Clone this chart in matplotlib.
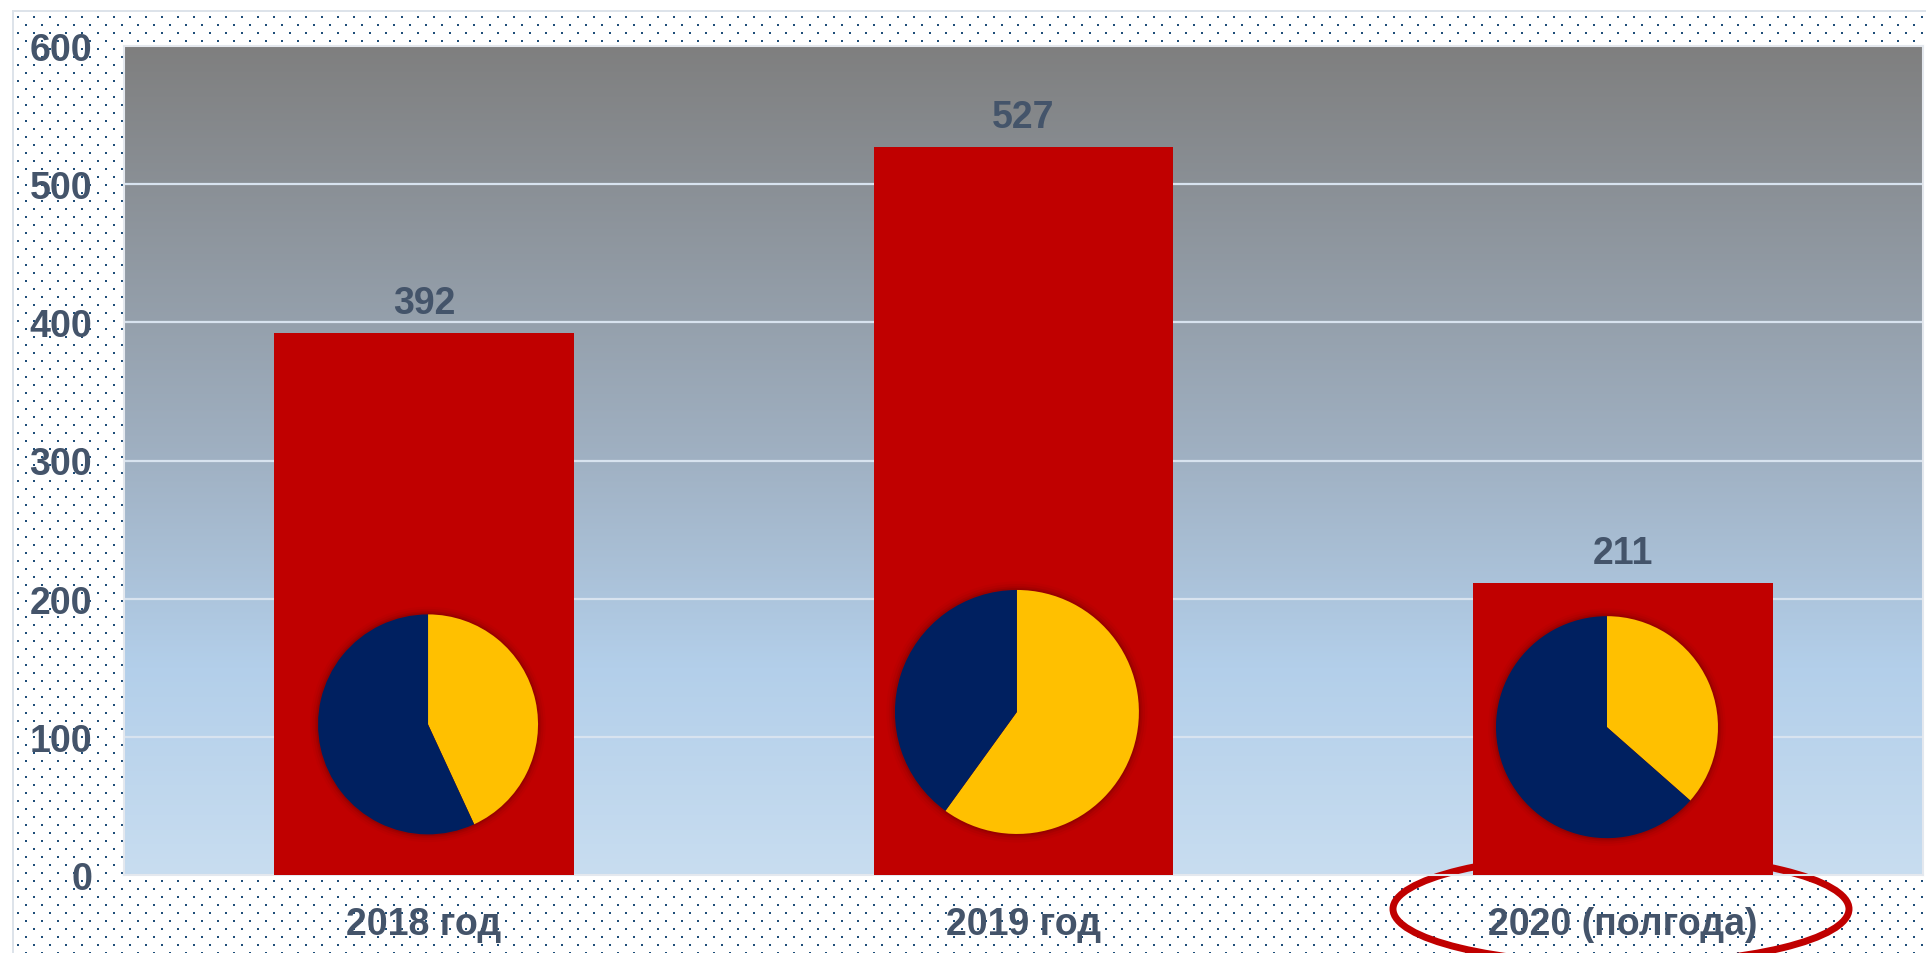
import numpy as np
import matplotlib
matplotlib.use('Agg')
import matplotlib.pyplot as plt
from matplotlib.patches import Ellipse, Circle
from matplotlib.transforms import blended_transform_factory

plt.rcParams['font.family'] = ['Liberation Sans', 'DejaVu Sans']
plt.rcParams['font.weight'] = 'bold'

# ---- data ----
categories = ['2018 год', '2019 год', '2020 (полгода)']
totals = [392, 527, 211]
yellow_part = [169, 316, 77]
navy_part = [223, 211, 134]
yticks = [0, 100, 200, 300, 400, 500, 600]

# ---- layout / style ----
W, H, DPI = 1926, 954, 100
TXT = '#44546A'
RED = '#C00000'
pie_centers = [(0.007, 109), (0.989, 118), (1.973, 107)]   # data coords
pie_radii_px = [110, 122, 111]

fig = plt.figure(figsize=(W / DPI, H / DPI), dpi=DPI)

# dotted background with light border
bg = np.ones((H, W, 3))
border = np.array([221, 227, 234]) / 255
bg[11:13, 12:, :] = border
bg[11:, 12:14, :] = border
dot = np.array([31, 78, 121]) / 255
for oy, ox in [(17, 17), (25, 25)]:
    rows = np.concatenate([np.arange(oy, H, 16), np.arange(oy + 1, H, 16)])
    cols = np.concatenate([np.arange(ox, W, 16), np.arange(ox + 1, W, 16)])
    rows = rows[rows < H]
    cols = cols[cols < W]
    bg[np.ix_(rows, cols)] = dot
fig.figimage(bg, 0, 0, zorder=-10)

ax = fig.add_axes([124 / W, 1 - 876 / H, (1923 - 124) / W, (876 - 47) / H])
ax.set_zorder(1)
ax.set_facecolor('none')

# gradient plot area
stops_t = [0.0, 0.5, 0.75, 1.0]
stops_c = np.array([[127, 127, 127], [160, 177, 195], [179, 207, 234], [200, 221, 240]]) / 255
t = np.linspace(0, 1, 400)
grad = np.stack([np.interp(t, stops_t, stops_c[:, k]) for k in range(3)], axis=1)[:, None, :]
ax.imshow(grad, extent=[-0.5, 2.5, 0, 600], aspect='auto', origin='upper',
          zorder=0, interpolation='bilinear')

for y in yticks[1:-1]:
    ax.axhline(y, color='#D8E3EF', lw=1.6, zorder=1)

x = np.arange(len(categories))
ax.bar(x, totals, width=0.5, color=RED, zorder=3)

for i, v in enumerate(totals):
    ax.annotate(str(v), (i, v), xytext=(0, 14.4), textcoords='offset points',
                ha='center', va='baseline', fontsize=27, fontweight='bold', color=TXT, zorder=6)

ax.set_xlim(-0.5, 2.5)
ax.set_ylim(0, 600)
ax.set_xticks([])
ax.set_yticks(yticks)
ax.tick_params(axis='y', length=0, pad=23, labelsize=27, labelcolor=TXT)
for lab in ax.get_yticklabels():
    lab.set_fontweight('bold')
for s in ax.spines.values():
    s.set_color('#E4E8EE')
    s.set_linewidth(1.5)

trans = blended_transform_factory(ax.transData, fig.transFigure)
for i, c in enumerate(categories):
    ax.text(i, 1 - 935 / H, c, transform=trans, ha='center', va='baseline',
            fontsize=27, fontweight='bold', color=TXT, zorder=6, clip_on=False)

ell = Ellipse((1621 / W, 1 - 910 / H), 456 / W, 110 / H, transform=fig.transFigure,
              fill=False, edgecolor=RED, lw=5, clip_on=False, zorder=2)
ax.add_patch(ell)
ax.set_xlim(-0.5, 2.5)
ax.set_ylim(0, 600)

# pies
for (px, py), r, yv, nv in zip(pie_centers, pie_radii_px, yellow_part, navy_part):
    cx, cy = ax.transData.transform((px, py))
    s = 1.12
    pax = fig.add_axes([(cx - s * r) / W, (cy - s * r) / H, 2 * s * r / W, 2 * s * r / H])
    pax.set_zorder(5)
    pax.patch.set_visible(False)
    for rr, a in [(1.07, 0.06), (1.05, 0.10), (1.03, 0.16), (1.015, 0.25)]:
        pax.add_patch(Circle((0, 0), rr, color='#6E0000', alpha=a, lw=0, zorder=0))
    pax.pie([yv, nv], colors=['#FFC000', '#002060'], startangle=90, counterclock=False,
            radius=1, wedgeprops=dict(linewidth=0))
    pax.set_xlim(-s, s)
    pax.set_ylim(-s, s)
    pax.set_aspect('equal')
    pax.axis('off')

fig.savefig('out.png', dpi=DPI)
